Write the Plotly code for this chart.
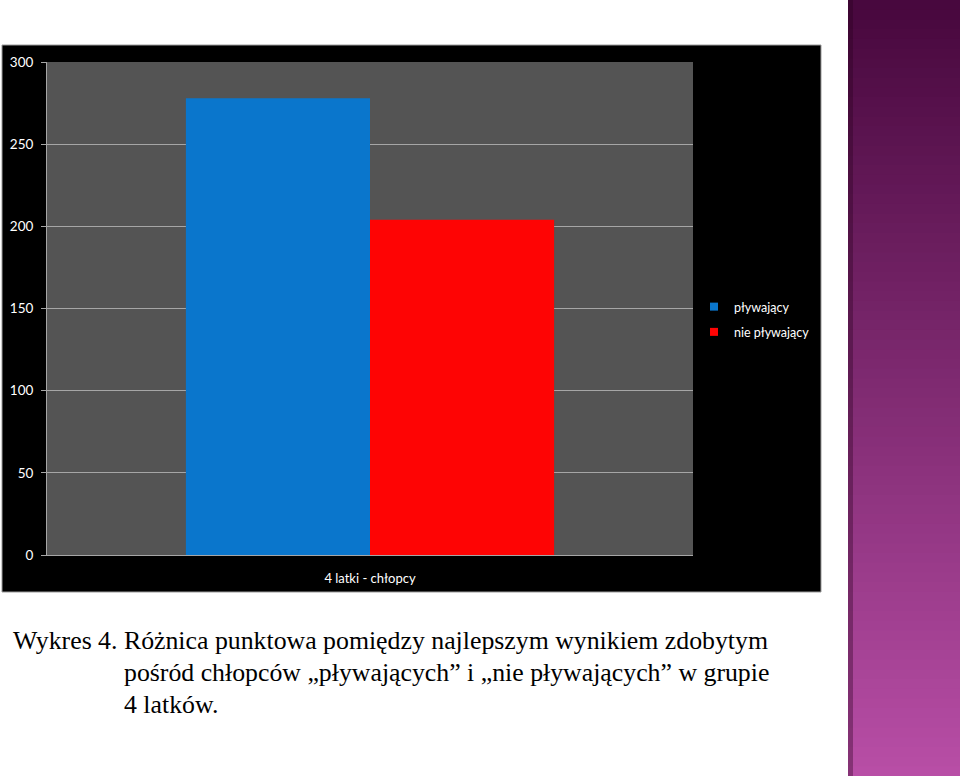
import plotly.graph_objects as go

categories = ["4 latki - chłopcy"]
series_names = ["pływający", "nie pływający"]
series_colors = ["#0a76cc", "#fe0404"]
swimming = [278]
non_swimming = [204]
y_ticks = [0, 50, 100, 150, 200, 250, 300]
caption_lines = [
    "Wykres 4. Różnica punktowa pomiędzy najlepszym wynikiem zdobytym",
    "pośród chłopców „pływających” i „nie pływających” w grupie",
    "4 latków.",
]

W, H = 960, 776


def px(x):
    return x / W


def py(y):
    return 1 - y / H


fig = go.Figure()
for name, vals, col in zip(series_names, [swimming, non_swimming], series_colors):
    fig.add_trace(go.Bar(x=categories, y=vals, name=name, showlegend=False,
                         marker=dict(color=col, line=dict(width=0))))
# legend entries with small square swatches
for i, (name, col) in enumerate(zip(series_names, series_colors)):
    fig.add_trace(go.Scatter(x=[None], y=[None], mode="markers", name=name,
                             legendgroup="g%d" % i,
                             marker=dict(symbol="square", size=8, color=col,
                                         line=dict(width=0))))

PLOT_L, PLOT_R, PLOT_T, PLOT_B = 47, 693, 62, 555

shapes = []
shapes.append(dict(type="rect", xref="paper", yref="paper", layer="below",
                   x0=px(2), x1=px(821), y0=py(592), y1=py(45),
                   fillcolor="#000000", line=dict(color="#9a9a9a", width=1)))
shapes.append(dict(type="rect", xref="paper", yref="paper", layer="below",
                   x0=px(PLOT_L), x1=px(PLOT_R), y0=py(PLOT_B), y1=py(PLOT_T),
                   fillcolor="#545454", line=dict(width=0)))
n = 80
top = (0x48, 0x08, 0x3e)
bot = (0xb8, 0x4e, 0xa6)
for i in range(n):
    t = i / (n - 1)
    c = tuple(int(top[k] + (bot[k] - top[k]) * t) for k in range(3))
    shapes.append(dict(type="rect", xref="paper", yref="paper", layer="below",
                       x0=px(848), x1=px(960), y0=max(0, py(H * (i + 1) / n + 1)), y1=py(H * i / n),
                       fillcolor="rgb(%d,%d,%d)" % c, line=dict(width=0)))
shapes.append(dict(type="rect", xref="paper", yref="paper", layer="below",
                   x0=px(848), x1=px(853), y0=0, y1=1,
                   fillcolor="rgba(40,0,30,0.35)", line=dict(width=0)))

annotations = []
caption_x = [11, 122, 122]
caption_y = [640, 672, 704]
for txt, xx, yy in zip(caption_lines, caption_x, caption_y):
    annotations.append(dict(text=txt, xref="paper", yref="paper", x=px(xx), y=py(yy),
                            xanchor="left", yanchor="middle", showarrow=False,
                            font=dict(family="Liberation Serif", size=25.8, color="#000000")))

fig.update_layout(
    width=W, height=H, autosize=False,
    margin=dict(l=0, r=0, t=0, b=0, pad=0),
    paper_bgcolor="#ffffff",
    plot_bgcolor="#545454",
    barmode="group",
    bargap=0.43,
    bargroupgap=0,
    shapes=shapes,
    annotations=annotations,
    showlegend=True,
    legend=dict(x=px(694), y=py(292), xanchor="left", yanchor="top",
                font=dict(family="Lato", size=12.5, color="#ffffff"),
                bgcolor="rgba(0,0,0,0)", itemwidth=30, tracegroupgap=6),
    font=dict(family="Lato", size=13, color="#ffffff"),
    xaxis=dict(domain=[px(PLOT_L), px(PLOT_R)], showgrid=False, showline=True,
               linecolor="#a6a6a6", linewidth=1, ticks="", automargin=False,
               ticklabelstandoff=11,
               tickfont=dict(size=13, color="#ffffff"), anchor="y"),
    yaxis=dict(domain=[py(PLOT_B), py(PLOT_T)], range=[0, 300], tickvals=y_ticks,
               showgrid=True, gridcolor="#a6a6a6", gridwidth=1, automargin=False,
               showline=True, linecolor="#a6a6a6", linewidth=1,
               ticks="outside", ticklen=5, tickwidth=1, tickcolor="#a6a6a6",
               ticklabelstandoff=5,
               tickfont=dict(size=13.5, color="#ffffff"), zeroline=False),
)

fig.write_html("out.html", config={"displayModeBar": False, "responsive": False})

with open("out.html", encoding="utf-8") as f:
    html = f.read()
html = html.replace("<head>", "<head><style>html,body{margin:0;padding:0;overflow:hidden}</style>", 1)
with open("out.html", "w", encoding="utf-8") as f:
    f.write(html)
